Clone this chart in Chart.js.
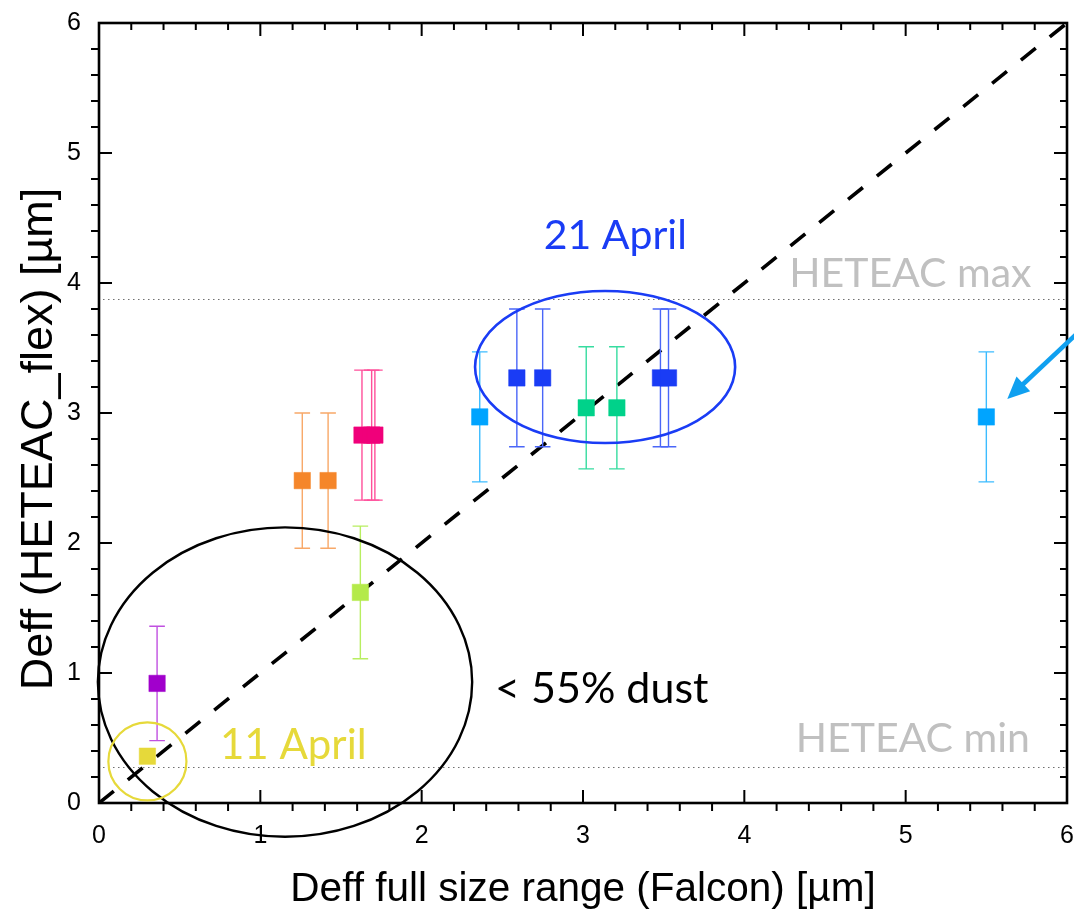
<!DOCTYPE html>
<html>
<head>
<meta charset="utf-8">
<script src="https://cdn.jsdelivr.net/npm/chart.js@4/dist/chart.umd.min.js"></script>
<style>
  html, body { margin: 0; padding: 0; background: #ffffff; }
  #wrap { width: 1074px; height: 919px; position: relative; }
</style>
</head>
<body>
<div id="wrap"><canvas id="chart"></canvas></div>
<script>
// Effective diameter: Falcon full size range (x) vs HETEAC_flex retrieval (y), µm
const falconDeff = [0.30, 0.36, 1.62, 1.26, 1.42, 1.63, 1.69, 1.71, 2.36, 2.59, 2.75, 3.48, 3.53, 3.02, 3.21, 5.50];
const heteacDeff = [0.36, 0.92, 1.62, 2.48, 2.48, 2.83, 2.83, 2.83, 2.97, 3.27, 3.27, 3.27, 3.27, 3.04, 3.04, 2.97];
const heteacErr  = [0.00, 0.44, 0.51, 0.52, 0.52, 0.50, 0.50, 0.50, 0.50, 0.53, 0.53, 0.53, 0.53, 0.47, 0.47, 0.50];

// Marker and error-bar colours for each measurement
const markerColors = ['#e6d93a', '#a100cc', '#b4ea4a', '#f5862a', '#f5862a', '#f0007a', '#f0007a', '#f0007a',
                      '#00a4ff', '#1a3cf5', '#1a3cf5', '#1a3cf5', '#1a3cf5', '#00d28a', '#00d28a', '#00a4ff'];
const barColors    = ['#ecdf5a', '#c050e0', '#b8ee60', '#f8a868', '#f8a868', '#ff4f9a', '#ff4f9a', '#ff4f9a',
                      '#3cbcff', '#4a66f8', '#4a66f8', '#4a66f8', '#4a66f8', '#36dca0', '#36dca0', '#3cbcff'];

// 1:1 reference line and HETEAC size limits
const oneToOne = [0, 6];
const heteacMax = 3.88;
const heteacMin = 0.275;

// Axis ticks
const xTickLabels = ['0', '1', '2', '3', '4', '5', '6'];
const yTickLabels = ['0', '1', '2', '3', '4', '5', '6'];

// Highlighted groups: [centre x, centre y, half-width, half-height] in µm
const dustEllipse    = [1.153, 0.93, 1.16, 1.19];
const april21Ellipse = [3.137, 3.354, 0.806, 0.585];
const april11Circle  = [0.30, 0.32, 0.242, 0.30];

const points = falconDeff.map((v, i) => ({ x: v, y: heteacDeff[i] }));

const annotations = {
  id: 'annotations',
  beforeDatasetDraw(chart, args) {
    if (args.index !== 1) return;
    const { ctx, scales: { x, y } } = chart;
    ctx.save();
    ctx.lineWidth = 1.4;
    falconDeff.forEach((xv, i) => {
      const e = heteacErr[i];
      if (!e) return;
      const px = x.getPixelForValue(xv);
      const top = y.getPixelForValue(heteacDeff[i] + e);
      const bot = y.getPixelForValue(heteacDeff[i] - e);
      ctx.strokeStyle = barColors[i];
      ctx.beginPath();
      ctx.moveTo(px, top); ctx.lineTo(px, bot);
      ctx.moveTo(px - 7.8, top); ctx.lineTo(px + 7.8, top);
      ctx.moveTo(px - 7.8, bot); ctx.lineTo(px + 7.8, bot);
      ctx.stroke();
    });
    ctx.restore();
  },
  afterDatasetsDraw(chart) {
    const { ctx, chartArea: a, scales: { x, y } } = chart;
    ctx.save();

    // HETEAC limits
    ctx.strokeStyle = '#707070';
    ctx.lineWidth = 1.2;
    ctx.setLineDash([1.5, 3.5]);
    [heteacMax, heteacMin].forEach(v => {
      const py = Math.round(y.getPixelForValue(v)) + 0.5;
      ctx.beginPath();
      ctx.moveTo(x.getPixelForValue(0) + 4, py);
      ctx.lineTo(a.right, py);
      ctx.stroke();
    });
    ctx.setLineDash([]);

    // Frame
    ctx.strokeStyle = '#000000';
    ctx.lineWidth = 2.6;
    ctx.strokeRect(a.left, a.top, a.right - a.left, a.bottom - a.top);

    // Ticks: major inward; minor outward on bottom/left, inward on top/right
    ctx.lineWidth = 2;
    ctx.beginPath();
    for (let k = 1; k < 30; k++) {
      const v = k / 5;
      const px = x.getPixelForValue(v);
      const py = y.getPixelForValue(v);
      if (k % 5 === 0) {
        ctx.moveTo(px, a.bottom); ctx.lineTo(px, a.bottom - 13);
        ctx.moveTo(px, a.top); ctx.lineTo(px, a.top + 13);
        ctx.moveTo(a.left, py); ctx.lineTo(a.left + 13, py);
        ctx.moveTo(a.right, py); ctx.lineTo(a.right - 13, py);
      } else {
        ctx.moveTo(px, a.bottom); ctx.lineTo(px, a.bottom + 8);
        ctx.moveTo(px, a.top); ctx.lineTo(px, a.top + 7);
        ctx.moveTo(a.left, py); ctx.lineTo(a.left - 8, py);
        ctx.moveTo(a.right, py); ctx.lineTo(a.right - 7, py);
      }
    }
    ctx.stroke();

    // Tick labels
    ctx.fillStyle = '#000000';
    ctx.font = '25px "Liberation Sans", Arial, sans-serif';
    ctx.textAlign = 'center';
    ctx.textBaseline = 'middle';
    xTickLabels.forEach((t, i) => ctx.fillText(t, x.getPixelForValue(i), a.bottom + 33));
    ctx.textAlign = 'right';
    yTickLabels.forEach((t, i) => ctx.fillText(t, a.left - 18, y.getPixelForValue(i)));

    // Axis titles
    ctx.font = '40.5px "Liberation Sans", Arial, sans-serif';
    ctx.textAlign = 'center';
    ctx.textBaseline = 'alphabetic';
    ctx.fillText('Deff full size range (Falcon) [µm]', (a.left + a.right) / 2, 901);
    ctx.save();
    ctx.font = '45px "Liberation Sans", Arial, sans-serif';
    ctx.translate(52, 439);
    ctx.rotate(-Math.PI / 2);
    ctx.fillText('Deff (HETEAC_flex) [µm]', 0, 0);
    ctx.restore();

    // Group outlines
    const ell = (e, color, w) => {
      const cx = x.getPixelForValue(e[0]);
      const cy = y.getPixelForValue(e[1]);
      const rx = x.getPixelForValue(e[0] + e[2]) - cx;
      const ry = cy - y.getPixelForValue(e[1] + e[3]);
      ctx.strokeStyle = color;
      ctx.lineWidth = w;
      ctx.beginPath();
      ctx.ellipse(cx, cy, rx, ry, 0, 0, Math.PI * 2);
      ctx.stroke();
    };
    ell(dustEllipse, '#000000', 2.4);
    ell(april21Ellipse, '#1a3cf5', 2.6);
    ell(april11Circle, '#e6d93a', 2.2);

    // Arrow pointing at the 5.5 µm case
    const x0 = x.getPixelForValue(6.07), y0 = y.getPixelForValue(3.62);
    const x1 = x.getPixelForValue(5.63), y1 = y.getPixelForValue(3.108);
    const ang = Math.atan2(y1 - y0, x1 - x0);
    const c = Math.cos(ang), s = Math.sin(ang);
    ctx.strokeStyle = '#10a0f0';
    ctx.fillStyle = '#10a0f0';
    ctx.lineWidth = 4.6;
    ctx.beginPath();
    ctx.moveTo(x0, y0);
    ctx.lineTo(x1 - 16 * c, y1 - 16 * s);
    ctx.stroke();
    ctx.beginPath();
    ctx.moveTo(x1, y1);
    ctx.lineTo(x1 - 22 * c + 10 * s, y1 - 22 * s - 10 * c);
    ctx.lineTo(x1 - 22 * c - 10 * s, y1 - 22 * s + 10 * c);
    ctx.closePath();
    ctx.fill();

    // Text labels
    ctx.font = '41px Lato, "Open Sans", sans-serif';
    ctx.textBaseline = 'alphabetic';
    ctx.fillStyle = '#1a3cf5';
    ctx.textAlign = 'center';
    ctx.fillText('21 April', x.getPixelForValue(3.20), y.getPixelForValue(4.262));
    ctx.fillStyle = '#c0c0c0';
    ctx.textAlign = 'right';
    ctx.fillText('HETEAC max', x.getPixelForValue(5.78), y.getPixelForValue(3.97));
    ctx.fillText('HETEAC min', x.getPixelForValue(5.77), y.getPixelForValue(0.39));
    ctx.fillStyle = '#000000';
    ctx.textAlign = 'left';
    ctx.font = '43px Lato, "Open Sans", sans-serif';
    ctx.fillText('< 55% dust', x.getPixelForValue(2.455), y.getPixelForValue(0.767));
    ctx.font = '42px Lato, "Open Sans", sans-serif';
    ctx.fillStyle = '#e6d93a';
    ctx.fillText('11 April', x.getPixelForValue(0.75), y.getPixelForValue(0.337));

    ctx.restore();
  }
};

new Chart(document.getElementById('chart'), {
  type: 'scatter',
  data: {
    datasets: [
      {
        type: 'line',
        data: oneToOne.map(v => ({ x: v, y: v })),
        borderColor: '#000000',
        borderWidth: 3.6,
        borderDash: [19, 18],
        borderCapStyle: 'butt',
        pointRadius: 0,
        fill: false,
        order: 2
      },
      {
        data: points,
        pointStyle: 'rect',
        pointRadius: 11.6,
        pointHoverRadius: 11.6,
        backgroundColor: markerColors,
        borderColor: markerColors,
        borderWidth: 0.5,
        order: 1
      }
    ]
  },
  options: {
    responsive: true,
    maintainAspectRatio: false,
    animation: false,
    events: [],
    layout: { autoPadding: false, padding: { left: 99, right: 7, top: 23, bottom: 116 } },
    plugins: { legend: { display: false }, tooltip: { enabled: false } },
    scales: {
      x: { type: 'linear', min: 0, max: 6, display: false },
      y: { type: 'linear', min: 0, max: 6, display: false }
    }
  },
  plugins: [annotations]
});
</script>
</body>
</html>
